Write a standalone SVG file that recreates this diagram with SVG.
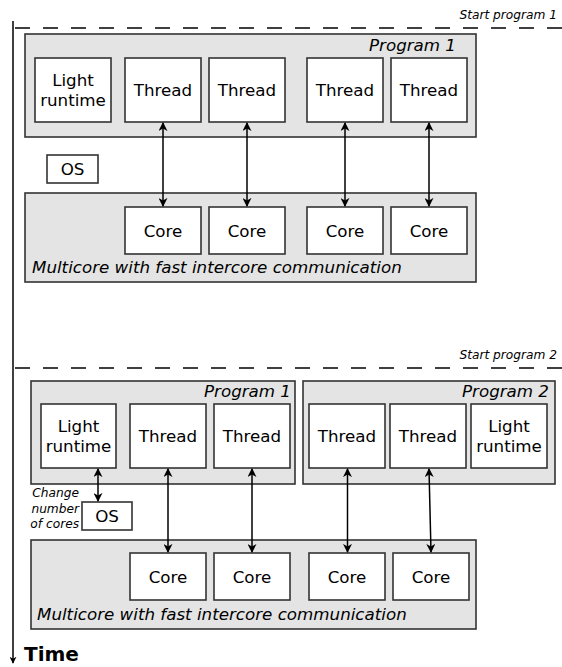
<svg xmlns="http://www.w3.org/2000/svg" width="562" height="667" viewBox="0 0 562 667">
  <style>
    .grp { fill: #e4e4e4; stroke: #333; stroke-width: 1.6; }
    .box { fill: #fff; stroke: #333; stroke-width: 1.6; }
    .lbl { font-family: "DejaVu Sans", sans-serif; font-size: 16.7px; fill: #000; text-anchor: middle; }
    .ital { font-family: "DejaVu Sans", sans-serif; font-style: oblique; font-size: 16.7px; fill: #000; }
    .note { font-family: "DejaVu Sans", sans-serif; font-style: oblique; font-size: 12.2px; fill: #000; }
    .dash { stroke: #000; stroke-width: 1.3; stroke-dasharray: 15 13; fill: none; }
    .link { stroke: #000; stroke-width: 1.5; fill: none; marker-start: url(#ah); marker-end: url(#ah); }
  </style>
  <defs>
    <marker id="ah" viewBox="0 0 10 10" refX="9" refY="5" markerWidth="9" markerHeight="9" markerUnits="userSpaceOnUse" orient="auto-start-reverse">
      <path d="M0,0 L10,5 L0,10 L3,5 Z" fill="#000"/>
    </marker>
    <marker id="ahs" viewBox="0 0 10 10" refX="9" refY="5" markerWidth="7" markerHeight="7" markerUnits="userSpaceOnUse" orient="auto">
      <path d="M0,0 L10,5 L0,10 L3,5 Z" fill="#000"/>
    </marker>
  </defs>

  <!-- time axis -->
  <g id="timeline">
    <line x1="13" y1="21" x2="13" y2="663" stroke="#000" stroke-width="1.5" marker-end="url(#ahs)"/>
    <text x="24" y="661" font-family="DejaVu Sans, sans-serif" font-weight="bold" font-size="20px">Time</text>
  </g>

  <!-- phase markers -->
  <g id="start1">
    <line class="dash" x1="15" y1="28" x2="562" y2="28"/>
    <text class="note" x="557" y="19" text-anchor="end">Start program 1</text>
  </g>
  <g id="start2">
    <line class="dash" x1="15" y1="368" x2="562" y2="368"/>
    <text class="note" x="557" y="359" text-anchor="end">Start program 2</text>
  </g>

  <!-- phase 1 -->
  <g id="p1-program1">
    <rect class="grp" x="25" y="34" width="451" height="103"/>
    <text class="ital" x="456" y="51" text-anchor="end">Program 1</text>
  </g>
  <g id="p1-runtime">
    <rect class="box" x="35" y="58" width="76" height="64"/>
    <text class="lbl" x="73" y="86">Light</text>
    <text class="lbl" x="73" y="106">runtime</text>
  </g>
  <g id="p1-thread1"><rect class="box" x="125" y="58" width="76" height="64"/><text class="lbl" x="163" y="96">Thread</text></g>
  <g id="p1-thread2"><rect class="box" x="209" y="58" width="76" height="64"/><text class="lbl" x="247" y="96">Thread</text></g>
  <g id="p1-thread3"><rect class="box" x="307" y="58" width="76" height="64"/><text class="lbl" x="345" y="96">Thread</text></g>
  <g id="p1-thread4"><rect class="box" x="391" y="58" width="76" height="64"/><text class="lbl" x="429" y="96">Thread</text></g>
  <g id="p1-os"><rect class="box" x="47" y="155" width="51" height="28"/><text class="lbl" x="72.5" y="175">OS</text></g>
  <g id="p1-multicore">
    <rect class="grp" x="25" y="193" width="451" height="89"/>
    <text class="ital" x="32" y="273">Multicore with fast intercore communication</text>
  </g>
  <g id="p1-core1"><rect class="box" x="125" y="207" width="76" height="47"/><text class="lbl" x="163" y="237">Core</text></g>
  <g id="p1-core2"><rect class="box" x="209" y="207" width="76" height="47"/><text class="lbl" x="247" y="237">Core</text></g>
  <g id="p1-core3"><rect class="box" x="307" y="207" width="76" height="47"/><text class="lbl" x="345" y="237">Core</text></g>
  <g id="p1-core4"><rect class="box" x="391" y="207" width="76" height="47"/><text class="lbl" x="429" y="237">Core</text></g>

  <!-- phase 2 -->
  <g id="p2-program1">
    <rect class="grp" x="31" y="381" width="264" height="103"/>
    <text class="ital" x="291" y="397" text-anchor="end">Program 1</text>
  </g>
  <g id="p2-runtime1">
    <rect class="box" x="41" y="404" width="75" height="64"/>
    <text class="lbl" x="78.5" y="432">Light</text>
    <text class="lbl" x="78.5" y="452">runtime</text>
  </g>
  <g id="p2-thread1"><rect class="box" x="130" y="404" width="76" height="64"/><text class="lbl" x="168" y="442">Thread</text></g>
  <g id="p2-thread2"><rect class="box" x="214" y="404" width="76" height="64"/><text class="lbl" x="252" y="442">Thread</text></g>
  <g id="p2-program2">
    <rect class="grp" x="303" y="381" width="252" height="103"/>
    <text class="ital" x="549" y="397" text-anchor="end">Program 2</text>
  </g>
  <g id="p2-thread3"><rect class="box" x="309" y="404" width="76" height="64"/><text class="lbl" x="347" y="442">Thread</text></g>
  <g id="p2-thread4"><rect class="box" x="390" y="404" width="76" height="64"/><text class="lbl" x="428" y="442">Thread</text></g>
  <g id="p2-runtime2">
    <rect class="box" x="471" y="404" width="76" height="64"/>
    <text class="lbl" x="509" y="432">Light</text>
    <text class="lbl" x="509" y="452">runtime</text>
  </g>
  <g id="p2-os">
    <rect class="box" x="82" y="502" width="50" height="28"/>
    <text class="lbl" x="107" y="522">OS</text>
    <text class="note" x="79" y="497" text-anchor="end">Change</text>
    <text class="note" x="79" y="513" text-anchor="end">number</text>
    <text class="note" x="79" y="528" text-anchor="end">of cores</text>
  </g>
  <g id="p2-multicore">
    <rect class="grp" x="31" y="540" width="445" height="89"/>
    <text class="ital" x="37" y="620">Multicore with fast intercore communication</text>
  </g>
  <g id="p2-core1"><rect class="box" x="130" y="553" width="76" height="47"/><text class="lbl" x="168" y="583">Core</text></g>
  <g id="p2-core2"><rect class="box" x="214" y="553" width="76" height="47"/><text class="lbl" x="252" y="583">Core</text></g>
  <g id="p2-core3"><rect class="box" x="309" y="553" width="76" height="47"/><text class="lbl" x="347" y="583">Core</text></g>
  <g id="p2-core4"><rect class="box" x="393" y="553" width="76" height="47"/><text class="lbl" x="431" y="583">Core</text></g>

  <!-- connectors -->
  <g id="connectors">
    <line class="link" x1="163" y1="123" x2="163" y2="206"/>
    <line class="link" x1="247" y1="123" x2="247" y2="206"/>
    <line class="link" x1="345" y1="123" x2="345" y2="206"/>
    <line class="link" x1="429" y1="123" x2="429" y2="206"/>
    <line class="link" x1="98" y1="469" x2="98" y2="501"/>
    <line class="link" x1="168" y1="469" x2="168" y2="552"/>
    <line class="link" x1="252" y1="469" x2="252" y2="552"/>
    <line class="link" x1="347.5" y1="469" x2="347.5" y2="552"/>
    <line class="link" x1="429" y1="469" x2="431" y2="552"/>
  </g>
</svg>
